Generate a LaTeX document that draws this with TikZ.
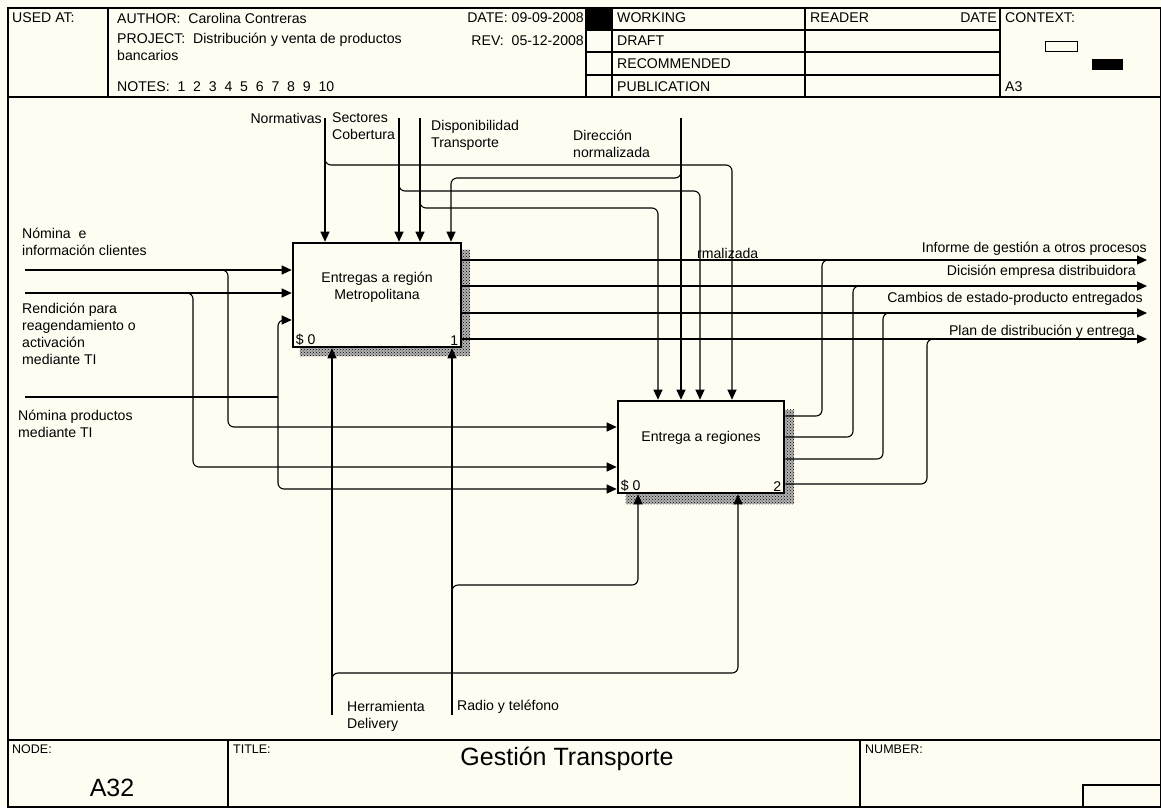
\documentclass[tikz,border=0pt]{standalone}
\usepackage{fontspec}
\setmainfont{Liberation Sans}
\usetikzlibrary{arrows.meta, patterns, backgrounds}

\definecolor{paper}{HTML}{FFFDF1}

\begin{document}
\begin{tikzpicture}[
    x=1pt, y=-1pt,
    >={Triangle[length=10pt, width=9pt]},
    every node/.style={font=\fontsize{14.1}{17}\selectfont, inner sep=0pt},
    frame/.style={draw, line width=1.3pt},
    flow/.style={draw, line width=1.1pt, rounded corners=6pt},
    arr/.style={flow, ->},
    actbox/.style={draw, line width=2.6pt, fill=paper},
    boxshadow/.style={preaction={fill=black!30}, pattern=crosshatch dots, pattern color=black},
    lbl/.style={align=left, anchor=north west},
    outlbl/.style={anchor=base east},
    tag/.style={font=\fontsize{12.5}{14}\selectfont, anchor=west},
    big/.style={font=\fontsize{25}{28}\selectfont}
]
\useasboundingbox (0,0) rectangle (1161,807);

% --- FORM FRAME ---
\draw[frame] (8,8) rectangle (1161,807);
\draw[frame] (8,97) -- (1161,97);
\draw[frame] (8,740) -- (1161,740);
\foreach \x in {108,586,612,805,1000} \draw[frame] (\x,8) -- (\x,97);
\foreach \y in {30,52,75} \draw[frame] (586,\y) -- (1000,\y);
\fill (586,8) rectangle (612,30);
\draw[frame] (228,740) -- (228,807);
\draw[frame] (860,740) -- (860,807);
\draw[frame] (1083,807) |- (1161,785);
\draw[line width=1pt, fill=paper] (1045,41) rectangle (1077,51);
\fill (1092,59) rectangle (1123,70);

% Header texts
\node[anchor=west] (used_at) at (12,18) {USED AT:};
\node[anchor=west] (author) at (117,18) {AUTHOR:\ \ Carolina Contreras};
\node[lbl] (project) at (117,33) {PROJECT:\ \ Distribución y venta de productos\\bancarios};
\node[anchor=west] (notes) at (117,87) {NOTES:\ \ 1\ \ 2\ \ 3\ \ 4\ \ 5\ \ 6\ \ 7\ \ 8\ \ 9\ \ 10};
\node[anchor=east] (date) at (584,18) {DATE: 09-09-2008};
\node[anchor=east] (rev) at (584,41) {REV:\ \ 05-12-2008};
\node[anchor=west] (working) at (617,18) {WORKING};
\node[anchor=west] (draft) at (617,41) {DRAFT};
\node[anchor=west] (recommended) at (617,64) {RECOMMENDED};
\node[anchor=west] (publication) at (617,87) {PUBLICATION};
\node[anchor=west] (reader) at (810,18) {READER};
\node[anchor=east] (reader_date) at (997,18) {DATE};
\node[anchor=west] (context) at (1005,18) {CONTEXT:};
\node[anchor=west] (context_id) at (1005,87) {A3};

% Footer texts
\node[tag] (node_lbl) at (12,749) {NODE:};
\node[tag] (title_lbl) at (233,749) {TITLE:};
\node[tag] (number_lbl) at (865,749) {NUMBER:};
\node[big] (node_id) at (112,788) {A32};
\node[big] (title) at (567,759) {Gestión Transporte};

% --- ACTIVITIES ---
\node[actbox, minimum width=168pt, minimum height=104pt] (act_metro) at (377,295) {};
\node[align=center] (act_metro_txt) at ([yshift=8pt]act_metro.center) {Entregas a región\\Metropolitana};
\node[anchor=south west] (act_metro_s) at ([shift={(4,-3)}]act_metro.south west) {\$ 0};
\node[anchor=south east] (act_metro_n) at ([shift={(-4,-3)}]act_metro.south east) {1};

\node[actbox, minimum width=166pt, minimum height=92pt] (act_reg) at (701,447) {};
\node (act_reg_txt) at ([yshift=9pt]act_reg.center) {Entrega a regiones};
\node[anchor=south west] (act_reg_s) at ([shift={(4,-3)}]act_reg.south west) {\$ 0};
\node[anchor=south east] (act_reg_n) at ([shift={(-4,-3)}]act_reg.south east) {2};

\begin{scope}[on background layer]
    \fill[paper] (0,0) rectangle (1161,807);
    \fill[boxshadow] ([shift={(8,8)}]act_metro.north west) rectangle ([shift={(8,8)}]act_metro.south east);
    \fill[boxshadow] ([shift={(9,10)}]act_reg.north west) rectangle ([shift={(9,10)}]act_reg.south east);
\end{scope}

% --- FREE ENDS ---
\coordinate (ctl_normativas) at (325,118);
\coordinate (ctl_sectores) at (399,118);
\coordinate (ctl_disponib) at (420,118);
\coordinate (ctl_direccion) at (681,118);
\coordinate (in_nomina) at (25,270);
\coordinate (in_rendicion) at (25,293);
\coordinate (in_productos) at (25,397);
\coordinate (in_prod_join) at (278,397);
\coordinate (out_informe) at (1147,260);
\coordinate (out_dicision) at (1147,286);
\coordinate (out_cambios) at (1147,313);
\coordinate (out_plan) at (1147,339);
\coordinate (mec_herram) at (332,715);
\coordinate (mec_radio) at (452,715);

% Controls
\draw[arr] (ctl_normativas) -- (ctl_normativas |- act_metro.north);
\draw[arr] (ctl_sectores) -- (ctl_sectores |- act_metro.north);
\draw[arr] (ctl_disponib) -- (ctl_disponib |- act_metro.north);
\draw[arr] (ctl_direccion) -- (ctl_direccion |- act_reg.north);
\draw[arr] (ctl_normativas |- 0,158) |- (732,165) -- (732,0 |- act_reg.north);
\draw[arr] (ctl_direccion |- 0,171) |- (451,178) -- (451,0 |- act_metro.north);
\draw[arr] (ctl_sectores |- 0,184) |- (700,191) -- (700,0 |- act_reg.north);
\draw[arr] (ctl_disponib |- 0,201) |- (658,208) -- (658,0 |- act_reg.north);

% Inputs
\draw[arr] (in_nomina) -- (in_nomina -| act_metro.west);
\draw[arr] (in_rendicion) -- (in_rendicion -| act_metro.west);
\draw[flow] (in_productos) -- (in_prod_join);
\draw[arr] (in_prod_join) |- (act_metro.west |- 0,320);
\draw[arr] (in_prod_join) |- (act_reg.west |- 0,489);
\draw[arr] (in_nomina -| 222,0) -| (228,427) -- (act_reg.west |- 0,427);
\draw[arr] (in_rendicion -| 187,0) -| (193,467) -- (act_reg.west |- 0,467);

% Outputs
\draw[arr] (act_metro.east |- out_informe) -- (out_informe);
\draw[arr] (act_metro.east |- out_dicision) -- (out_dicision);
\draw[arr] (act_metro.east |- out_cambios) -- (out_cambios);
\draw[arr] (act_metro.east |- out_plan) -- (out_plan);
\draw[flow] (act_reg.east |- 0,416) -| (out_informe -| 822,0) -- (out_informe -| 828,0);
\draw[flow] (act_reg.east |- 0,437) -| (out_dicision -| 853,0) -- (out_dicision -| 859,0);
\draw[flow] (act_reg.east |- 0,459) -| (out_cambios -| 883,0) -- (out_cambios -| 889,0);
\draw[flow] (act_reg.east |- 0,484) -| (out_plan -| 927,0) -- (out_plan -| 933,0);

% Mechanisms
\draw[arr] (mec_herram) -- (mec_herram |- act_metro.south);
\draw[arr] (mec_radio) -- (mec_radio |- act_metro.south);
\draw[arr] (mec_herram |- 0,679) |- (738,673) -- (738,0 |- act_reg.south);
\draw[arr] (mec_radio |- 0,591) |- (638,585) -- (638,0 |- act_reg.south);

% --- ARROW LABELS ---
\node[anchor=east] (lbl_normativas) at (322,118) {Normativas};
\node[lbl] (lbl_sectores) at (332,112) {Sectores\\Cobertura};
\node[lbl] (lbl_disponib) at (431,120) {Disponibilidad\\Transporte};
\node[lbl] (lbl_direccion) at (573,130) {Dirección\\normalizada};
\node[anchor=west] (lbl_rmaliz) at (697,253) {rmalizada};
\node[lbl] (lbl_nomina) at (22,228) {Nómina\ \ e\\información clientes};
\node[lbl] (lbl_rendicion) at (22,303) {Rendición para\\reagendamiento o\\activación\\mediante TI};
\node[lbl] (lbl_productos) at (18,410) {Nómina productos\\mediante TI};
\node[outlbl] (lbl_informe) at (1147,252) {Informe de gestión a otros procesos};
\node[outlbl] (lbl_dicision) at (1136,275) {Dicisión empresa distribuidora};
\node[outlbl] (lbl_cambios) at (1143,302) {Cambios de estado-producto entregados};
\node[outlbl] (lbl_plan) at (1135,335) {Plan de distribución y entrega};
\node[lbl] (lbl_herram) at (347,701) {Herramienta\\Delivery};
\node[anchor=west] (lbl_radio) at (457,707) {Radio y teléfono};

\end{tikzpicture}
\end{document}
